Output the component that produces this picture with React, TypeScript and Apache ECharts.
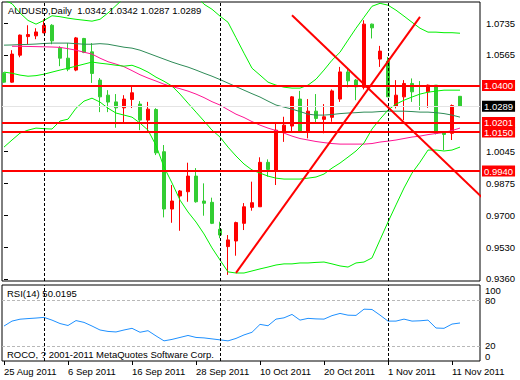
import React, { useEffect, useRef } from 'react';
import * as echarts from 'echarts';

// ---- data -------------------------------------------------------------
const dates = [
  '2011-08-25', '2011-08-26', '2011-08-29', '2011-08-30', '2011-08-31',
  '2011-09-01', '2011-09-02', '2011-09-05', '2011-09-06', '2011-09-07', '2011-09-08', '2011-09-09',
  '2011-09-12', '2011-09-13', '2011-09-14', '2011-09-15', '2011-09-16', '2011-09-19', '2011-09-20',
  '2011-09-21', '2011-09-22', '2011-09-23', '2011-09-26', '2011-09-27', '2011-09-28', '2011-09-29', '2011-09-30',
  '2011-10-03', '2011-10-04', '2011-10-05', '2011-10-06', '2011-10-07', '2011-10-10', '2011-10-11',
  '2011-10-12', '2011-10-13', '2011-10-14', '2011-10-17', '2011-10-18', '2011-10-19', '2011-10-20',
  '2011-10-21', '2011-10-24', '2011-10-25', '2011-10-26', '2011-10-27', '2011-10-28', '2011-10-31',
  '2011-11-01', '2011-11-02', '2011-11-03', '2011-11-04', '2011-11-07', '2011-11-08', '2011-11-09',
  '2011-11-10', '2011-11-11', '2011-11-14',
];

const opens = [1.0466,1.0418,1.0563,1.0663,1.0667,1.0683,1.0724,1.0601,1.0547,1.0483,1.0653,1.0581,1.0429,1.0348,1.0312,1.0280,1.0325,1.0300,1.0214,1.0271,1.0044,0.9736,0.9806,0.9829,0.9913,0.9779,0.9772,0.9627,0.9534,0.9564,0.9659,0.9745,0.9748,0.9987,0.9942,1.0155,1.0182,1.0327,1.0151,1.0262,1.0218,1.0229,1.0327,1.0473,1.0429,1.0390,1.0730,1.0542,1.0531,1.0289,1.0339,1.0411,1.0400,1.0366,1.0402,1.0151,1.0143,1.0342];
const highs = [1.0472,1.0590,1.0674,1.0724,1.0708,1.0756,1.0730,1.0611,1.0628,1.0661,1.0656,1.0628,1.0440,1.0375,1.0354,1.0348,1.0402,1.0316,1.0312,1.0278,1.0080,0.9865,0.9838,0.9985,0.9956,0.9874,0.9797,0.9668,0.9596,0.9668,0.9768,0.9883,1.0014,1.0003,1.0200,1.0232,1.0343,1.0371,1.0327,1.0354,1.0300,1.0379,1.0500,1.0495,1.0435,1.0751,1.0733,1.0613,1.0554,1.0429,1.0429,1.0438,1.0424,1.0405,1.0402,1.0153,1.0298,1.0342];
const lows = [1.0415,1.0415,1.0552,1.0622,1.0649,1.0681,1.0622,1.0504,1.0477,1.0477,1.0574,1.0414,1.0257,1.0257,1.0173,1.0196,1.0279,1.0160,1.0155,1.0026,0.9691,0.9662,0.9619,0.9775,0.9770,0.9700,0.9655,0.9579,0.9382,0.9485,0.9623,0.9727,0.9748,0.9910,0.9865,1.0097,1.0146,1.0148,1.0116,1.0200,1.0143,1.0205,1.0312,1.0390,1.0321,1.0379,1.0653,1.0500,1.0339,1.0277,1.0214,1.0312,1.0268,1.0280,1.0137,1.0053,1.0107,1.0287];
const closes = [1.0418,1.0569,1.0671,1.0674,1.0688,1.0724,1.0640,1.0547,1.0488,1.0656,1.0578,1.0465,1.0339,1.0311,1.0280,1.0327,1.0361,1.0214,1.0273,1.0038,0.9736,0.9779,0.9833,0.9913,0.9775,0.9767,0.9659,0.9596,0.9570,0.9663,0.9748,0.9770,0.9987,0.9949,1.0160,1.0187,1.0339,1.0151,1.0262,1.0223,1.0232,1.0371,1.0473,1.0425,1.0393,1.0730,1.0710,1.0585,1.0339,1.0348,1.0411,1.0366,1.0396,1.0402,1.0143,1.0137,1.0292,1.0289];

const bbUpper = [1.0860,1.0840,1.0790,1.0750,1.0730,1.0750,1.0775,1.0770,1.0762,1.0756,1.0751,1.0746,1.0756,1.0790,1.0830,1.0870,1.0890,1.0910,1.0930,1.0940,1.0945,1.0945,1.0935,1.0915,1.0885,1.0837,1.0810,1.0773,1.0740,1.0657,1.0574,1.0493,1.0456,1.0418,1.0402,1.0391,1.0386,1.0386,1.0402,1.0434,1.0483,1.0536,1.0579,1.0644,1.0708,1.0767,1.0826,1.0842,1.0832,1.0805,1.0773,1.0740,1.0708,1.0687,1.0687,1.0684,1.0684,1.0681];
const bbMiddle = [1.0472,1.0466,1.0456,1.0450,1.0453,1.0461,1.0472,1.0483,1.0493,1.0504,1.0515,1.0526,1.0520,1.0515,1.0509,1.0504,1.0509,1.0493,1.0472,1.0445,1.0423,1.0397,1.0354,1.0305,1.0257,1.0209,1.0160,1.0123,1.0069,1.0021,0.9978,0.9946,0.9929,0.9913,0.9902,0.9897,0.9897,0.9897,0.9902,0.9908,0.9924,0.9956,0.9983,1.0015,1.0048,1.0091,1.0166,1.0219,1.0268,1.0300,1.0321,1.0338,1.0354,1.0364,1.0370,1.0375,1.0375,1.0375];
const bbLower = [1.0069,1.0107,1.0144,1.0160,1.0171,1.0168,1.0166,1.0209,1.0219,1.0278,1.0316,1.0332,1.0311,1.0278,1.0252,1.0241,1.0230,1.0198,1.0160,1.0078,0.9962,0.9876,0.9784,0.9720,0.9666,0.9602,0.9527,0.9462,0.9398,0.9392,0.9392,0.9403,0.9414,0.9424,0.9435,0.9441,0.9441,0.9446,0.9446,0.9449,0.9451,0.9441,0.9430,0.9424,0.9446,0.9451,0.9473,0.9570,0.9666,0.9758,0.9849,0.9929,0.9988,1.0053,1.0053,1.0048,1.0053,1.0069];
const maSlow = [1.0617,1.0618,1.0620,1.0621,1.0623,1.0626,1.0628,1.0628,1.0628,1.0625,1.0622,1.0622,1.0625,1.0622,1.0614,1.0606,1.0601,1.0590,1.0574,1.0558,1.0542,1.0526,1.0512,1.0499,1.0483,1.0466,1.0450,1.0432,1.0413,1.0394,1.0375,1.0356,1.0338,1.0316,1.0295,1.0284,1.0273,1.0260,1.0246,1.0241,1.0241,1.0244,1.0249,1.0252,1.0254,1.0257,1.0257,1.0260,1.0262,1.0262,1.0262,1.0260,1.0257,1.0257,1.0254,1.0249,1.0241,1.0230];
const maPink = [null,1.0611,1.0611,1.0610,1.0609,1.0608,1.0607,1.0605,1.0598,1.0590,1.0579,1.0569,1.0547,1.0528,1.0515,1.0501,1.0480,1.0458,1.0440,1.0424,1.0407,1.0394,1.0383,1.0370,1.0354,1.0335,1.0313,1.0295,1.0270,1.0246,1.0228,1.0206,1.0187,1.0171,1.0158,1.0144,1.0128,1.0115,1.0107,1.0099,1.0093,1.0088,1.0085,1.0085,1.0085,1.0085,1.0088,1.0096,1.0101,1.0107,1.0115,1.0123,1.0128,1.0136,1.0142,1.0147,1.0158,1.0171];
const rsi = [46,52.5,55,55.8,56.5,57.4,53.8,49.3,46.7,53.2,50.8,46,40.8,38.9,38.2,40.8,43,37.8,39.9,33,26.5,28.4,31,33.6,31,30.4,29.1,27.8,26.5,29.7,34.3,37.8,48.2,46.4,55.1,56.8,61.3,53.8,56.1,55.4,55.1,59.7,62.6,60.3,60.0,68.2,67.8,60.4,52.5,52.5,55.1,52.5,52.9,53.8,43.4,43.0,48.6,50.0195];

const levels = [1.04, 1.0201, 1.015, 0.994];
const bidPrice = 1.0289;
const priceTicks = [1.0735, 1.0565, 1.0045, 0.9875, 0.97, 0.953, 0.936];
const rsiTicks = [0, 20, 80, 100];
const rsiLevels = [20, 80];
const dateTickIdx = [0, 8, 16, 24, 32, 40, 48, 56];
const trendDown = [[36, 1.0778], [62, 0.9706]];
const trendUp = [[29, 0.9393], [52, 1.0769]];
const headerText = 'AUDUSD,Daily  1.0342 1.0342 1.0287 1.0289';
const rsiText = 'RSI(14) 50.0195';
const copyText = 'ROCO, ? 2001-2011 MetaQuotes Software Corp.';

// ---- helpers ----------------------------------------------------------
const MONTHS = ['Jan', 'Feb', 'Mar', 'Apr', 'May', 'Jun', 'Jul', 'Aug', 'Sep', 'Oct', 'Nov', 'Dec'];
const fmtDate = (s: string) => {
  const [y, m, d] = s.split('-');
  return `${parseInt(d, 10)} ${MONTHS[parseInt(m, 10) - 1]} ${y}`;
};
const separators = dates
  .map((d, i) => (i > 0 && d.slice(5, 7) !== dates[i - 1].slice(5, 7) ? i : -1))
  .filter((i) => i >= 0);

const FONT = '"Liberation Sans", Arial, sans-serif';
const FS = 9.5;
const RED = '#FF0000';
const GREEN = '#32CD32';
const LIME = '#00F000';

const pts = (arr: (number | null)[]) => arr.map((v, i) => [i, v]);

const sepLine = separators.map((i) => ({
  xAxis: i,
  lineStyle: { color: '#000', width: 1, type: [3, 2] },
}));

export default function App() {
  const ref = useRef<HTMLDivElement>(null);
  useEffect(() => {
    if (!ref.current) return;
    const chart = echarts.init(ref.current, undefined, { renderer: 'svg' });
    const candleData = dates.map((_, i) => [i, opens[i], closes[i], lows[i], highs[i]]);
    const lineBase = {
      type: 'line',
      xAxisIndex: 0,
      yAxisIndex: 0,
      symbol: 'none',
      silent: true,
      z: 4,
    };
    const boxLabel = (bg: string) => ({
      show: true, position: 'end', distance: 2,
      formatter: (p: any) => Number(p.value).toFixed(4),
      backgroundColor: bg, color: '#fff', fontSize: FS, fontFamily: FONT, padding: [1, 2, 0, 2],
    });
    const option: any = {
      animation: false,
      backgroundColor: '#ffffff',
      grid: [
        { left: 2, top: 2, width: 478, height: 279, show: true, borderColor: '#000', borderWidth: 1, backgroundColor: '#fff' },
        { left: 2, top: 285, width: 478, height: 76, show: true, borderColor: '#000', borderWidth: 1, backgroundColor: '#fff' },
      ],
      xAxis: [
        { gridIndex: 0, type: 'value', min: -0.25, max: 59.5, show: false },
        {
          gridIndex: 1, type: 'value', min: -0.25, max: 59.5,
          axisLine: { show: false },
          splitLine: { show: false },
          axisTick: { show: true, customValues: dateTickIdx, length: 4, lineStyle: { color: '#000' } },
          axisLabel: {
            customValues: dateTickIdx,
            formatter: (v: number) => fmtDate(dates[Math.round(v)]),
            align: 'left', margin: 5, fontSize: FS, fontFamily: FONT, color: '#000',
          },
        },
      ],
      yAxis: [
        {
          gridIndex: 0, type: 'value', position: 'right', min: 0.9349, max: 1.0849,
          axisLine: { show: false },
          splitLine: { show: false },
          axisTick: { show: true, customValues: priceTicks, length: 4, lineStyle: { color: '#000' } },
          axisLabel: {
            customValues: priceTicks,
            formatter: (v: number) => v.toFixed(4),
            margin: 6, fontSize: FS, fontFamily: FONT, color: '#000',
          },
        },
        {
          gridIndex: 1, type: 'value', position: 'right', min: 0, max: 100,
          axisLine: { show: false },
          splitLine: { show: false },
          axisTick: { show: false },
          axisLabel: {
            customValues: rsiTicks,
            formatter: (v: number) =>
              v === 100 ? '{s| }\n{t|100}' : v === 0 ? '{t|0}\n{s| }' : `{t|${v}}`,
            margin: 5, fontFamily: FONT, color: '#000',
            rich: {
              t: { fontSize: FS, fontFamily: FONT, lineHeight: 10, color: '#000' },
              s: { fontSize: FS, lineHeight: 10 },
            },
          },
        },
      ],
      series: [
        {
          type: 'line', xAxisIndex: 0, yAxisIndex: 0, data: [], symbol: 'none', silent: true, z: 1, clip: false,
          markLine: {
            silent: true, symbol: 'none', animation: false, precision: 4,
            data: [{
              yAxis: bidPrice,
              lineStyle: { color: '#e4e4e4', width: 1, type: 'solid' },
              label: boxLabel('#000'),
            }],
          },
        },
        {
          type: 'candlestick', xAxisIndex: 0, yAxisIndex: 0,
          data: candleData,
          encode: { x: 0, y: [1, 2, 3, 4] },
          barWidth: 4,
          silent: true,
          z: 3,
          itemStyle: { color: RED, color0: GREEN, borderColor: RED, borderColor0: GREEN, borderWidth: 1 },
          markLine: { silent: true, symbol: 'none', label: { show: false }, animation: false, data: sepLine },
        },
        { ...lineBase, data: pts(maSlow), lineStyle: { color: '#2E8B57', width: 1 } },
        { ...lineBase, data: pts(maPink), lineStyle: { color: '#FF1493', width: 1 } },
        { ...lineBase, data: pts(bbUpper), lineStyle: { color: LIME, width: 1 } },
        { ...lineBase, data: pts(bbMiddle), lineStyle: { color: LIME, width: 1 } },
        { ...lineBase, data: pts(bbLower), lineStyle: { color: LIME, width: 1 } },
        { ...lineBase, data: trendDown, lineStyle: { color: RED, width: 2 }, z: 6 },
        { ...lineBase, data: trendUp, lineStyle: { color: RED, width: 2 }, z: 6 },
        {
          type: 'line', xAxisIndex: 0, yAxisIndex: 0, data: [], symbol: 'none', silent: true, z: 6, clip: false,
          markLine: {
            silent: true, symbol: 'none', animation: false, precision: 4,
            lineStyle: { color: RED, width: 2, type: 'solid' },
            label: boxLabel(RED),
            data: levels.map((v) => ({ yAxis: v })),
          },
        },
        {
          type: 'line', xAxisIndex: 1, yAxisIndex: 1, data: pts(rsi), symbol: 'none', silent: true, z: 4,
          lineStyle: { color: '#1E90FF', width: 1 },
          markLine: {
            silent: true, symbol: 'none', label: { show: false }, animation: false,
            data: [
              ...rsiLevels.map((v) => ({ yAxis: v, lineStyle: { color: '#b8b8b8', width: 1, type: [3, 2] } })),
              ...sepLine,
            ],
          },
        },
      ],
      graphic: [
        { type: 'text', left: 8, top: 5, z: 10, style: { text: headerText, fontSize: FS, fontFamily: FONT, fill: '#000' } },
        { type: 'text', left: 7, top: 288, z: 10, style: { text: rsiText, fontSize: FS, fontFamily: FONT, fill: '#000' } },
        { type: 'text', left: 7, top: 349, z: 10, style: { text: copyText, fontSize: FS, fontFamily: FONT, fill: '#000' } },
      ],
    };
    chart.setOption(option);
    return () => chart.dispose();
  }, []);
  return (
    <div
      ref={ref}
      style={{ position: 'fixed', left: 0, top: 0, width: 520, height: 380, background: '#fff' }}
    />
  );
}
